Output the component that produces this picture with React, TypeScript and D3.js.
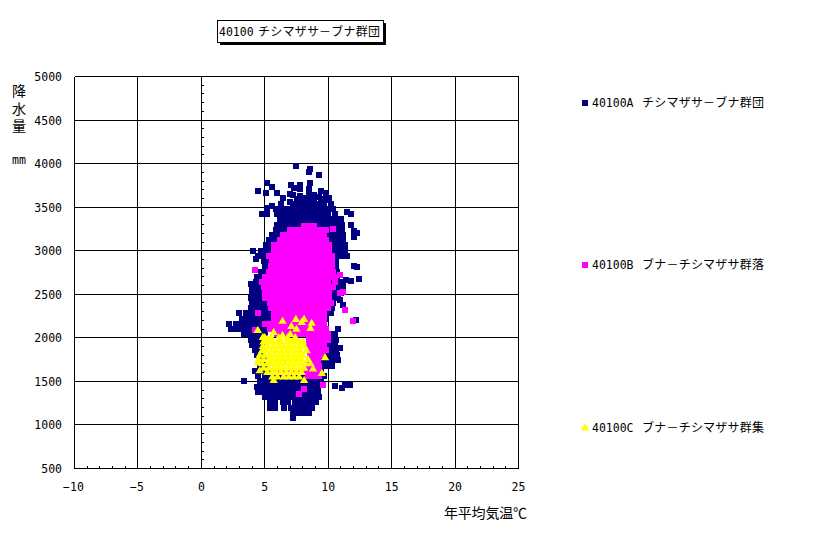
import React from "react";
import * as d3 from "d3";

type Row = [number, number[]];
type Pt = [number, number];

const xTicks = [-10, -5, 0, 5, 10, 15, 20, 25];
const yTicks = [500, 1000, 1500, 2000, 2500, 3000, 3500, 4000, 4500, 5000];
const titleCode = "40100";
const titleName = "チシマザサ－ブナ群団";
const legendCodes = ["40100A", "40100B", "40100C"];
const legendNames = ["チシマザサ－ブナ群団", "ブナ－チシマザサ群落", "ブナ－チシマザサ群集"];
const yLabelChars = ["降", "水", "量"];
const xLabel = "年平均気温℃";

const blueOutliers: Pt[] = [
  [7.44, 3978], [8.6, 3933], [8.5, 3898], [9.3, 3864], [5.2, 3783], [5.6, 3737], [7.1, 3749], [7.3, 3725],
  [7.8, 3760], [7.75, 3703], [8.6, 3772], [8.5, 3714], [4.5, 3691], [5.1, 3668], [6.0, 3657], [6.95, 3646],
  [7.2, 3640], [7.75, 3623], [9.4, 3691], [9.8, 3657], [8.5, 3634], [8.9, 3640], [9.3, 3620], [6.4, 3600],
  [6.3, 3542], [7.0, 3554], [7.7, 3590], [8.2, 3600], [8.8, 3590], [9.6, 3590], [10.1, 3600], [5.6, 3508],
  [5.2, 3485], [4.8, 3416], [5.2, 3427], [11.5, 3440], [11.8, 3425], [11.8, 3300], [12.0, 3230], [12.3, 3205],
  [12.0, 3155], [4.1, 2992], [4.7, 2992], [5.1, 3000], [12.0, 2825], [12.3, 2815], [12.4, 2670], [11.4, 2660],
  [11.8, 2655], [12.2, 2200], [3.35, 1510], [10.5, 1445], [11.1, 1425], [11.3, 1470], [11.5, 1460], [11.75, 1455],
  [4.3, 2900], [10.9, 2440], [11.2, 2380], [10.8, 2100], [10.9, 1880], [10.7, 1760], [3.9, 2620],
];
const blueUpper: Row[] = [
  [3580, [7.5, 8.0, 8.4, 8.9, 9.4, 9.9]],
  [3540, [7.2, 7.7, 8.1, 8.5, 8.9, 9.3, 9.7, 10.2]],
  [3480, [5.9, 6.3, 6.7, 7.1, 7.5, 7.9, 8.3, 8.7, 9.1, 9.5, 9.9, 10.4]],
  [3420, [6.0, 6.4, 6.8, 7.2, 7.6, 8.0, 8.4, 8.8, 9.2, 9.6, 10.0, 10.5]],
  [3360, [6.2, 6.6, 7.0, 7.4, 7.8, 8.2, 8.6, 9.0, 9.4, 9.8, 10.2, 10.6, 11.0]],
  [3300, [6.0, 6.4, 6.8, 7.2, 7.6, 8.0, 8.4, 8.8, 9.2, 9.6, 10.0, 10.4, 10.8, 11.1]],
  [3240, [5.9, 6.3, 6.7, 7.1, 9.8, 10.2, 10.6, 11.1]],
  [3180, [5.6, 6.0, 6.4, 6.8, 9.6, 10.0, 10.4, 10.8, 11.2]],
  [3120, [5.3, 5.7, 6.1, 6.5, 9.7, 10.1, 10.5, 10.9, 11.2]],
  [3060, [5.1, 5.5, 5.9, 6.3, 9.8, 10.2, 10.6, 11.0, 11.3]],
  [3000, [5.4, 5.8, 9.9, 10.3, 10.7, 11.1, 11.3]],
  [2940, [4.5, 4.9, 5.3, 5.7, 10.0, 10.4, 10.8, 11.2, 11.5]],
  [2880, [4.9, 5.3, 5.7, 10.2, 10.6]],
  [2820, [5.0, 5.4, 5.8, 10.2, 10.6]],
  [2760, [4.7, 5.1, 5.5, 10.3, 10.7]],
];
const blueMiddle: Row[] = [
  [2700, [4.4, 4.8, 5.2, 5.6, 10.3, 10.7]],
  [2640, [4.3, 4.7, 5.1, 5.5, 10.4, 10.8, 11.2]],
  [2580, [4.0, 4.4, 4.8, 5.2, 10.4, 10.8, 11.2]],
  [2520, [4.0, 4.4, 4.8, 5.2, 10.2, 10.6, 11.0]],
  [2460, [3.9, 4.3, 4.7, 5.1, 10.0, 10.4, 10.8]],
  [2400, [4.0, 4.4, 4.8, 5.2, 5.6, 10.0, 10.4]],
  [2340, [3.9, 4.3, 4.7, 5.1, 5.5, 10.0, 10.3]],
  [2280, [3.0, 3.5, 3.9, 4.3, 4.7, 5.1, 5.5, 9.8, 10.2]],
  [2220, [3.2, 3.6, 3.9, 4.3, 4.7, 5.1, 5.5, 9.8]],
  [2160, [2.2, 2.7, 3.1, 3.5, 3.9, 4.3, 4.7, 5.1, 5.5]],
  [2100, [2.3, 2.8, 3.2, 3.6, 4.0, 4.4, 4.8, 5.2]],
  [2040, [3.4, 3.8, 4.2, 4.6, 5.0, 10.2, 10.5]],
  [1980, [3.9, 4.3, 4.7, 5.1, 9.9, 10.3, 10.6]],
  [1920, [4.0, 4.4, 4.8, 9.9, 10.3, 10.5]],
  [1860, [4.2, 4.6, 5.0, 9.8, 10.2, 10.6]],
  [1800, [4.4, 4.8, 9.8, 10.2, 10.7]],
  [1740, [4.6, 5.0, 9.6, 10.0, 10.4, 10.8]],
  [1680, [4.6, 5.0, 9.4, 9.8, 10.3]],
];
const blueLower: Row[] = [
  [1620, [4.2, 4.6, 5.0, 5.4, 9.4]],
  [1560, [4.5, 5.0, 5.4, 5.8, 6.2, 6.6, 7.0, 7.4, 7.8, 8.2, 8.6, 9.0, 9.4, 9.7]],
  [1500, [4.6, 5.0, 5.4, 5.8, 6.2, 6.6, 7.0, 7.4, 7.8, 8.2, 8.6, 9.0, 9.4]],
  [1440, [4.4, 4.8, 5.2, 5.6, 6.0, 6.4, 6.8, 7.2, 7.6, 8.0, 8.4, 8.8, 9.2]],
  [1380, [4.5, 4.9, 5.3, 5.7, 6.1, 6.5, 6.9, 7.3, 7.7, 8.1, 8.5, 8.9, 9.2]],
  [1320, [5.0, 5.4, 5.8, 6.2, 6.6, 7.0, 7.4, 7.8, 8.2, 8.6, 9.0, 9.3]],
  [1260, [5.4, 5.8, 6.4, 6.8, 7.4, 7.8, 8.2, 8.6, 9.0]],
  [1200, [5.4, 5.8, 6.5, 7.1, 7.5, 7.9, 8.3, 8.7]],
  [1140, [7.2, 7.6, 8.0, 8.5]],
  [1075, [7.2]],
];

const pinkOutliers: Pt[] = [
  [6.4, 3185], [10.4, 3250], [4.2, 2773], [10.9, 2510], [11.2, 2530], [11.3, 2325], [11.95, 2190],
  [4.5, 2280], [4.2, 2095], [9.6, 1453], [8.1, 1418], [7.7, 1360], [10.9, 2720],
];
const pinkRows: Row[] = [
  [3280, [8.1, 8.5, 8.9]],
  [3240, [7.0, 7.4, 7.8, 8.2, 8.6, 9.0, 9.4, 9.8]],
  [3180, [6.9, 7.3, 7.7, 8.1, 8.5, 8.9, 9.3, 9.7]],
  [3120, [6.2, 6.6, 7.0, 7.4, 7.8, 8.2, 8.6, 9.0, 9.4, 9.8]],
  [3060, [5.7, 6.1, 6.5, 6.9, 7.3, 7.7, 8.1, 8.5, 8.9, 9.3, 9.7, 10.1]],
  [3000, [5.7, 6.1, 6.5, 6.9, 7.3, 7.7, 8.1, 8.5, 8.9, 9.3, 9.7, 10.1]],
  [2940, [5.3, 5.7, 6.1, 6.5, 6.9, 7.3, 7.7, 8.1, 8.5, 8.9, 9.3, 9.7, 10.1, 10.3]],
  [2880, [5.6, 6.0, 6.4, 6.8, 7.2, 7.6, 8.0, 8.4, 8.8, 9.2, 9.6, 10.0, 10.3]],
  [2820, [5.5, 5.9, 6.3, 6.7, 7.1, 7.5, 7.9, 8.3, 8.7, 9.1, 9.5, 9.9, 10.3]],
  [2760, [5.3, 5.7, 6.1, 6.5, 6.9, 7.3, 7.7, 8.1, 8.5, 8.9, 9.3, 9.7, 10.1, 10.4]],
  [2700, [5.0, 5.4, 5.8, 6.2, 6.6, 7.0, 7.4, 7.8, 8.2, 8.6, 9.0, 9.4, 9.8, 10.2, 10.5]],
  [2640, [4.8, 5.2, 5.6, 6.0, 6.4, 6.8, 7.2, 7.6, 8.0, 8.4, 8.8, 9.2, 9.6, 10.0, 10.5]],
  [2580, [4.9, 5.3, 5.7, 6.1, 6.5, 6.9, 7.3, 7.7, 8.1, 8.5, 8.9, 9.3, 9.7, 10.1, 10.4]],
  [2520, [5.0, 5.4, 5.8, 6.2, 6.6, 7.0, 7.4, 7.8, 8.2, 8.6, 9.0, 9.4, 9.8, 10.1]],
  [2460, [5.0, 5.4, 5.8, 6.2, 6.6, 7.0, 7.4, 7.8, 8.2, 8.6, 9.0, 9.4, 9.8, 10.1]],
  [2400, [5.4, 5.8, 6.2, 6.6, 7.0, 7.4, 7.8, 8.2, 8.6, 9.0, 9.4, 9.8, 10.2]],
  [2340, [5.5, 5.9, 6.3, 6.7, 7.1, 7.5, 7.9, 8.3, 8.7, 9.1, 9.5, 10.0]],
  [2280, [5.7, 6.1, 6.5, 6.9, 7.3, 7.7, 8.1, 8.5, 8.9, 9.3, 9.7]],
  [2220, [5.7, 6.1, 6.5, 6.9, 7.3, 7.7, 8.1, 8.5, 8.9, 9.3, 9.7]],
  [2160, [5.0, 5.4, 5.8, 6.2, 6.6, 7.0, 7.4, 7.8, 8.2, 8.6, 9.0, 9.4, 9.7]],
  [2100, [5.4, 5.8, 6.2, 6.6, 7.0, 7.4, 7.8, 8.2, 8.6, 9.0, 9.4, 9.8]],
  [2040, [6.0, 6.4, 6.8, 7.2, 7.6, 8.0, 8.4, 8.8, 9.2, 9.6, 10.0]],
  [1980, [8.5, 8.9, 9.3, 9.7, 10.0]],
  [1920, [8.5, 8.9, 9.3, 9.7]],
  [1860, [8.6, 9.0, 9.4, 9.8]],
  [1800, [8.6, 9.0, 9.5]],
  [1740, [8.5, 8.9, 9.2]],
  [1680, [8.2, 8.6, 9.0, 9.3]],
  [1620, [6.0, 6.4, 6.8, 7.2, 7.6, 8.0, 8.4, 8.8, 9.3]],
  [1560, [6.5, 8.4, 8.8, 9.3]],
];

const yellowOutliers: Pt[] = [
  [6.4, 2188], [7.45, 2210], [8.1, 2210], [7.9, 2176], [8.7, 2165], [8.6, 2107], [7.1, 2130], [7.5, 2096],
  [4.45, 2084], [5.7, 2061], [6.4, 2027], [7.0, 2038], [4.85, 2004], [5.2, 1981], [7.5, 1970], [7.8, 1946],
  [6.8, 1992], [9.75, 1770], [8.8, 1640], [9.5, 1590], [8.1, 1510], [8.6, 1700], [4.45, 1710],
  [4.6, 1620], [5.7, 1510],
];
const yellowRows: Row[] = [
  [2000, [5.0, 5.5, 6.1, 6.8, 7.4]],
  [1950, [4.9, 5.3, 5.6, 6.0, 6.3, 6.8, 7.1, 7.5, 8.0]],
  [1900, [4.85, 5.2, 5.7, 6.1, 6.5, 6.9, 7.3, 7.7, 8.1]],
  [1850, [4.8, 5.1, 5.5, 5.9, 6.3, 6.7, 7.0, 7.4, 7.8, 8.3]],
  [1800, [4.6, 5.0, 5.4, 5.8, 6.2, 6.5, 6.9, 7.3, 7.7, 8.0]],
  [1750, [4.5, 4.9, 5.3, 5.6, 6.0, 6.4, 6.8, 7.2, 7.5, 7.9, 8.4]],
  [1700, [4.8, 5.2, 5.5, 5.9, 6.2, 6.6, 7.0, 7.4, 7.8, 8.2]],
  [1650, [4.9, 5.3, 5.7, 6.1, 6.5, 6.9, 7.3, 7.7, 8.1]],
  [1600, [5.2, 5.6, 5.9, 6.3, 6.7, 7.1, 7.5, 7.9]],
  [1550, [5.6, 6.0, 6.5, 6.9, 7.3, 7.7]],
];

const flatten = (rows: Row[]): Pt[] => rows.flatMap(([p, ts]) => ts.map((t) => [t, p] as Pt));
const blueSeries: Pt[] = [...flatten(blueUpper), ...flatten(blueMiddle), ...flatten(blueLower), ...blueOutliers];
const pinkSeries: Pt[] = [...flatten(pinkRows), ...pinkOutliers];
const yellowSeries: Pt[] = [...flatten(yellowRows), ...yellowOutliers];

const BLUE = "#000080";
const PINK = "#ff00ff";
const YELLOW = "#ffff00";
const LATIN = "'DejaVu Sans Mono', monospace";
const CJK = "'Noto Sans CJK JP', sans-serif";

const x = d3.scaleLinear().domain([-10, 25]).range([74.5, 518.5]);
const y = d3.scaleLinear().domain([500, 5000]).range([468.5, 76.5]);
const xMinor = d3.range(-10, 26).filter((v) => v % 5 !== 0);
const yMinor = d3.range(600, 5000, 100).filter((v) => v % 500 !== 0);
const triangle = d3.symbol().type(d3.symbolTriangle).size(30)() as string;
const legendY = [103, 265, 428];

export default function App() {
  const legendX = 585;
  return (
    <svg width={816} height={534} style={{ position: "absolute", left: 0, top: 0, background: "#fff" }}>
      <g shapeRendering="crispEdges">
        <rect x={220} y={23} width={166} height={22} fill="#000" />
        <rect x={217.5} y={20.5} width={166} height={22} fill="#fff" stroke="#000" />
      </g>
      <text x={219} y={36} fontSize={11.5} fontFamily={LATIN}>{titleCode}</text>
      <text x={258} y={36} fontSize={12} fontFamily={CJK} textLength={122}>{titleName}</text>

      <g stroke="#000" strokeWidth={1} shapeRendering="crispEdges">
        {yTicks.map((v) => <line key={v} x1={x(-10)} x2={x(25)} y1={y(v)} y2={y(v)} />)}
        {xTicks.map((v) => <line key={v} x1={x(v)} x2={x(v)} y1={y(500)} y2={y(5000)} />)}
        {xMinor.map((v) => <line key={v} x1={x(v)} x2={x(v)} y1={y(500)} y2={y(500) - 2.5} />)}
        {yMinor.map((v) => <line key={v} x1={x(0)} x2={x(0) + 2.5} y1={y(v)} y2={y(v)} />)}
      </g>

      <g fill={BLUE} shapeRendering="crispEdges">
        {blueSeries.map(([t, p], i) => <rect key={i} x={Math.round(x(t)) - 3} y={Math.round(y(p)) - 3} width={6} height={6} />)}
      </g>
      <g fill={PINK} shapeRendering="crispEdges">
        {pinkSeries.map(([t, p], i) => <rect key={i} x={Math.round(x(t)) - 3} y={Math.round(y(p)) - 3} width={6} height={6} />)}
      </g>
      <g fill={YELLOW}>
        {yellowSeries.map(([t, p], i) => <path key={i} d={triangle} transform={`translate(${x(t)},${y(p)})`} />)}
      </g>

      <g fontSize={11.5} fontFamily={LATIN} fill="#000">
        {yTicks.map((v) => <text key={v} x={62} y={y(v) + 4.5} textAnchor="end">{v}</text>)}
        {xTicks.map((v) => <text key={v} x={x(v) - (v < 0 ? 1 : 0)} y={491} textAnchor="middle">{v < 0 ? `−${-v}` : v}</text>)}
      </g>

      <text fontSize={14} fontFamily={CJK} fill="#000" textAnchor="middle">
        {yLabelChars.map((c, i) => <tspan key={c} x={19} y={96 + i * 17.5}>{c}</tspan>)}
      </text>
      <text x={12} y={164} fontSize={13} fontFamily={LATIN} textLength={14} lengthAdjust="spacingAndGlyphs">mm</text>
      <text x={444} y={518} fontSize={14} fontFamily={CJK} textLength={83}>{xLabel}</text>

      <rect x={legendX - 3} y={legendY[0] - 3} width={6} height={6} fill={BLUE} shapeRendering="crispEdges" />
      <rect x={legendX - 3} y={legendY[1] - 3} width={6} height={6} fill={PINK} shapeRendering="crispEdges" />
      <path d={triangle} transform={`translate(${legendX},${legendY[2]})`} fill={YELLOW} />
      {legendCodes.map((c, i) => (
        <g key={c} fill="#000">
          <text x={592} y={legendY[i] + 4} fontSize={11.5} fontFamily={LATIN}>{c}</text>
          <text x={642} y={legendY[i] + 4} fontSize={12} fontFamily={CJK} textLength={122}>{legendNames[i]}</text>
        </g>
      ))}
    </svg>
  );
}
